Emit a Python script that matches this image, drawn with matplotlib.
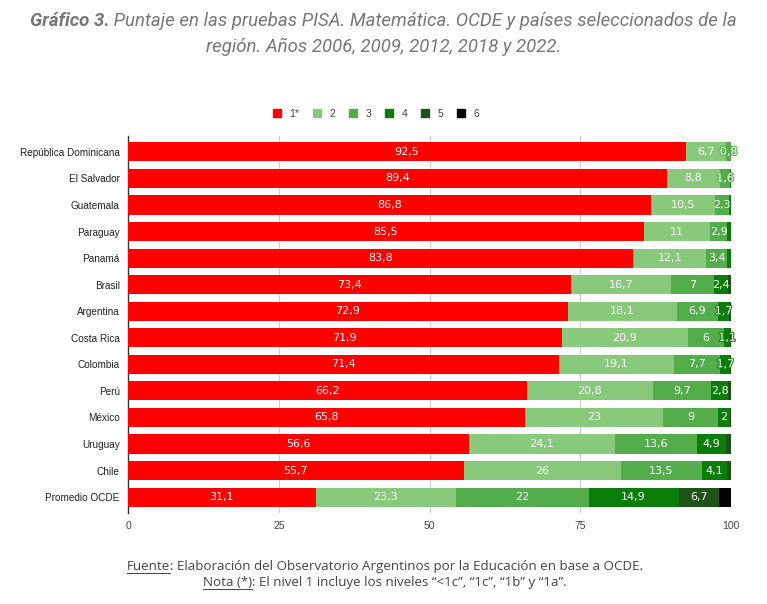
import numpy as np
import matplotlib
matplotlib.use('Agg')
import matplotlib.pyplot as plt
import matplotlib.patheffects as pe
from matplotlib.lines import Line2D

# datos
paises = ['República Dominicana', 'El Salvador', 'Guatemala', 'Paraguay', 'Panamá',
          'Brasil', 'Argentina', 'Costa Rica', 'Colombia', 'Perú', 'México',
          'Uruguay', 'Chile', 'Promedio OCDE']
nivel1 = [92.5, 89.4, 86.8, 85.5, 83.8, 73.4, 72.9, 71.9, 71.4, 66.2, 65.8, 56.6, 55.7, 31.1]
nivel2 = [6.7, 8.8, 10.5, 11, 12.1, 16.7, 18.1, 20.9, 19.1, 20.8, 23, 24.1, 26, 23.3]
nivel3 = [0.8, 1.6, 2.3, 2.9, 3.4, 7, 6.9, 6, 7.7, 9.7, 9, 13.6, 13.5, 22]
nivel4 = [0.0, 0.2, 0.4, 0.6, 0.7, 2.4, 1.7, 1.1, 1.7, 2.8, 2, 4.9, 4.1, 14.9]
nivel5 = [0, 0, 0, 0, 0, 0.5, 0.4, 0.1, 0.1, 0.5, 0.2, 0.8, 0.7, 6.7]
nivel6 = [0, 0, 0, 0, 0, 0, 0, 0, 0, 0, 0, 0, 0, 2.0]
niveles = ['1*', '2', '3', '4', '5', '6']
colores = ['#ff0000', '#88c97b', '#52ad4a', '#0b7d0b', '#1d5415', '#000000']

series = [nivel1, nivel2, nivel3, nivel4, nivel5, nivel6]

fig = plt.figure(figsize=(7.67, 6.04), dpi=100)
ax = fig.add_axes([128/767, 1-513/604, (731-128)/767, (513-136)/604])

y = np.arange(len(paises))
izq = np.zeros(len(paises))
for k, (vals, col, lab) in enumerate(zip(series, colores, niveles)):
    vals = np.array(vals)
    ax.barh(y, vals, left=izq, height=0.72, color=col, label=lab, zorder=3)
    minimo = 0.75 if k < 3 else (1.0 if k < 5 else 99)  # segmentos chicos sin etiqueta
    for yi, l, v in zip(y, izq, vals):
        if v >= minimo:
            txt = ('%g' % v).replace('.', ',')
            t = ax.text(l + v/2, yi, txt, ha='center', va='center', color='white',
                        fontsize=8, family='DejaVu Sans', zorder=4)
            if v < 2:
                t.set_path_effects([pe.withStroke(linewidth=1.5, foreground=col)])
    izq = izq + vals

ax.set_xlim(0, 100)
ax.set_ylim(len(paises) - 0.4, -0.6)
ax.set_yticks(y)
ax.set_yticklabels(paises, fontsize=7.2, family='Liberation Sans', color='#222222')
ax.set_xticks([0, 25, 50, 75, 100])
ax.set_xticklabels(['0', '25', '50', '75', '100'], fontsize=7.5, family='Liberation Sans', color='#444444')
ax.tick_params(length=0, pad=6)
ax.xaxis.grid(True, color='#cccccc', lw=0.8, zorder=0)
for s in ['top', 'right', 'bottom']:
    ax.spines[s].set_visible(False)
ax.spines['left'].set_color('#333333')
ax.spines['left'].set_linewidth(1)

# leyenda
handles = [plt.Rectangle((0, 0), 1, 1, color=c) for c in colores]
fig.legend(handles, niveles, loc='center', bbox_to_anchor=(376/767, 1-114/604), ncol=6,
           frameon=False, handlelength=0.8, handleheight=0.8, handletextpad=0.8,
           columnspacing=1.3, prop={'family': 'Liberation Sans', 'size': 7.5},
           labelcolor='#444444')

fig.canvas.draw()
ren = fig.canvas.get_renderer()


def linea_mixta(piezas, xc, yc):
    # piezas: (texto, kwargs, subrayado)
    objs = []
    for t, kw, sub in piezas:
        objs.append((fig.text(0, yc, t, va='baseline', ha='left', **kw), sub, kw))
    anchos = [o.get_window_extent(ren).width for o, _, _ in objs]
    total = sum(anchos)
    x0 = xc * fig.bbox.width - total / 2
    for (o, sub, kw), w in zip(objs, anchos):
        o.set_x(x0 / fig.bbox.width)
        if sub:
            yl = yc - 3 / fig.bbox.height
            fig.add_artist(Line2D([x0 / fig.bbox.width, (x0 + w) / fig.bbox.width], [yl, yl],
                                  transform=fig.transFigure, color=kw.get('color'), lw=0.7))
        x0 += w


gris = '#777777'
titulo_kw = dict(family='Roboto', style='italic', fontsize=13.4, color=gris)
linea_mixta([('Gráfico 3.', dict(titulo_kw, weight='bold'), False),
             (' Puntaje en las pruebas PISA. Matemática. OCDE y países seleccionados de la', titulo_kw, False)],
            0.5, 1 - 26/604)
linea_mixta([('región. Años 2006, 2009, 2012, 2018 y 2022.', titulo_kw, False)], 0.5, 1 - 52/604)

pie_kw = dict(family='Open Sans', fontsize=9.6, color='#444444')
linea_mixta([('Fuente', pie_kw, True),
             (': Elaboración del Observatorio Argentinos por la Educación en base a OCDE.', pie_kw, False)],
            385/767, 1 - 570/604)
linea_mixta([('Nota (*)', pie_kw, True),
             (': El nivel 1 incluye los niveles “<1c”, “1c”, “1b” y “1a”.', pie_kw, False)],
            385/767, 1 - 586/604)

fig.savefig('out.png', dpi=100)
